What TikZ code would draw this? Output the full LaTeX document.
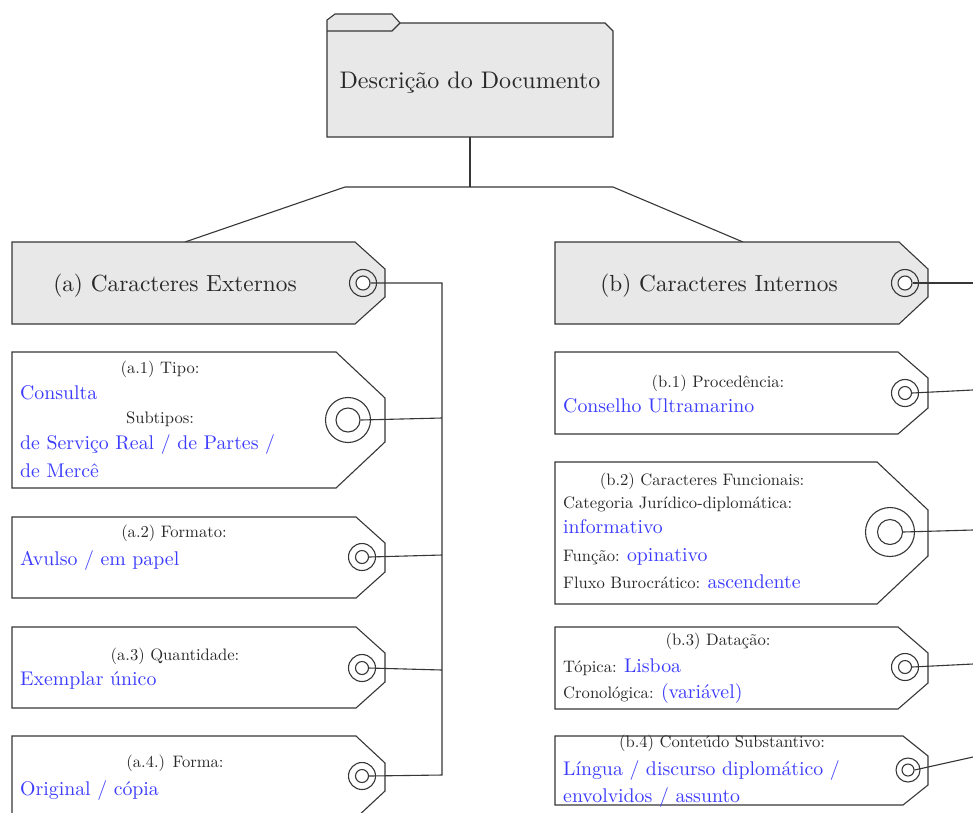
\documentclass[tikz,border=0pt]{standalone}
\usepackage{fontspec}
\setmainfont{lmroman10-regular.otf}
\definecolor{inkblue}{RGB}{60,60,255}
\definecolor{inkdark}{RGB}{40,40,40}
\definecolor{tagfill}{RGB}{232,232,232}
\definecolor{edge}{RGB}{55,55,55}
\tikzset{
  tagline/.style={draw=edge, line width=1.1pt, line join=miter},
  wire/.style={draw=edge, line width=1.1pt},
  ring/.style={circle, draw=edge, line width=1.1pt, inner sep=0pt, minimum size=#1},
  lbl/.style={inner sep=0pt, text=inkdark, font=\fontsize{16.6}{20}\selectfont},
  val/.style={inner sep=0pt, text=inkblue, font=\fontsize{19.8}{24}\selectfont},
  head/.style={inner sep=0pt, text=inkdark, font=\fontsize{23.3}{28}\selectfont},
  title/.style={inner sep=0pt, text=inkdark, font=\fontsize{24}{28}\selectfont},
}
% tag outline: x1, y1, x2, y2, chamfer width, chamfer height
\newcommand{\tagpath}[7][fill=white]{%
  \draw[tagline,#1] (#2,#3) -- (#4-#6,#3) -- (#4,#3+#7) -- (#4,#5-#7)
    -- (#4-#6,#5) -- (#2,#5) -- cycle;}
% eyelet: name, centre, outer and inner diameter, inner fill
\newcommand{\eyelet}[5]{%
  \node[ring=#3] (#1o) at #2 {};
  \node[ring=#4, fill=#5] (#1) at #2 {};}
\newcommand{\lb}[1]{{\color{inkdark}\fontsize{16.6}{20}\selectfont #1}}
\begin{document}
\begin{tikzpicture}[x=1pt,y=-1pt]
\clip (0,0) rectangle (973,812);
\fill[white] (0,0) rectangle (973,812);

% document folder
\draw[tagline, fill=tagfill] (327,137) -- (327,20) -- (335,14) -- (392,14)
  -- (400,23) -- (605,23) -- (613,31) -- (613,137) -- cycle;
\draw[tagline] (327,31) -- (392,31) -- (400,23);
\node[title, anchor=base] (doc) at (470,88) {Descrição do Documento};
\coordinate (docbot) at (470,137);

% tree from the folder to the two branches
\coordinate (fork) at (470,187);
\coordinate (forkL) at (345,187);
\coordinate (forkR) at (613,187);
\coordinate (atop) at (185,242);
\coordinate (btop) at (743,242);
\draw[wire] (docbot) -- (fork);
\draw[wire] (atop) -- (forkL) -- (forkR) -- (btop);

% branch headers
\tagpath[fill=tagfill]{12}{242}{385}{324}{30}{27}
\tagpath[fill=tagfill]{555}{242}{928}{324}{29}{27}
\node[head, anchor=base] (ha) at (175,291) {(a) Caracteres Externos};
\node[head, anchor=base] (hb) at (719,291) {(b) Caracteres Internos};
\eyelet{ea}{(363,283)}{27pt}{14pt}{white}
\eyelet{eb}{(905,283)}{27pt}{14pt}{white}

% (a) tags
\tagpath{12}{352}{385}{488}{49}{46}
\tagpath{12}{517}{385}{598}{29}{26}
\tagpath{12}{627}{385}{708}{29}{26}
\tagpath{12}{736}{385}{818}{29}{27}
\eyelet{ea1}{(348,420)}{45pt}{24pt}{white}
\eyelet{ea2}{(362,557)}{27pt}{13pt}{white}
\eyelet{ea3}{(362,668)}{27pt}{13pt}{white}
\eyelet{ea4}{(362,776)}{27pt}{13pt}{white}

\node[lbl, anchor=base] (ta1) at (160,373) {(a.1) Tipo:};
\node[val, anchor=base west] (va1) at (20,399) {Consulta};
\node[lbl, anchor=base] (sa1) at (160,423) {Subtipos:};
\node[val, anchor=base west] (wa1) at (20,449) {de Serviço Real / de Partes /};
\node[val, anchor=base west] (xa1) at (20,477) {de Mercê};

\node[lbl, anchor=base] (ta2) at (174,537) {(a.2) Formato:};
\node[val, anchor=base west] (va2) at (20,565) {Avulso / em papel};

\node[lbl, anchor=base] (ta3) at (175,660) {(a.3) Quantidade:};
\node[val, anchor=base west] (va3) at (20,685) {Exemplar único};

\node[lbl, anchor=base] (ta4) at (175,767) {(a.4.) Forma:};
\node[val, anchor=base west] (va4) at (20,795) {Original / cópia};

% (b) tags
\tagpath{555}{352}{928}{434}{30}{26}
\tagpath{555}{462}{928}{604}{51}{48}
\tagpath{555}{627}{928}{709}{30}{26}
\tagpath{555}{736}{928}{805}{25}{20}
\eyelet{eb1}{(905,393)}{27pt}{13pt}{white}
\eyelet{eb2}{(890,532)}{49pt}{25pt}{white}
\eyelet{eb3}{(905,667)}{27pt}{13pt}{white}
\eyelet{eb4}{(908,770)}{24pt}{12pt}{white}

\node[lbl, anchor=base] (tb1) at (718,387) {(b.1) Procedência:};
\node[val, anchor=base west] (vb1) at (563,412) {Conselho Ultramarino};

\node[lbl, anchor=base] (tb2) at (702,485) {(b.2) Caracteres Funcionais:};
\node[lbl, anchor=base west] (cb2) at (563,508) {Categoria Jurídico-diplomática:};
\node[val, anchor=base west] (vb2) at (563,533) {informativo};
\node[val, anchor=base west] (fb2) at (563,561) {\lb{Função: }opinativo};
\node[val, anchor=base west] (gb2) at (563,588) {\lb{Fluxo Burocrático: }ascendente};

\node[lbl, anchor=base] (tb3) at (718,645) {(b.3) Datação:};
\node[val, anchor=base west] (vb3) at (563,672) {\lb{Tópica: }Lisboa};
\node[val, anchor=base west] (cb3) at (563,698) {\lb{Cronológica: }(variável)};

\node[lbl, anchor=base] (tb4) at (722,747) {(b.4) Conteúdo Substantivo:};
\node[val, anchor=base west] (vb4) at (563,775) {Língua / discurso diplomático /};
\node[val, anchor=base west] (wb4) at (563,802) {envolvidos / assunto};

% connectors of branch (a): eyelets to the vertical spine
\coordinate (spinetop) at (442,283);
\coordinate (sa1p) at (442,418);
\coordinate (sa2p) at (442,555);
\coordinate (sa3p) at (442,670);
\coordinate (spinebot) at (442,775);
\draw[wire] (ea.east) -- (spinetop) -- (spinebot) -- (ea4.east);
\draw[wire] (ea1.east) -- (sa1p);
\draw[wire] (ea2.east) -- (sa2p);
\draw[wire] (ea3.east) -- (sa3p);

% connectors of branch (b): eyelets running off to the right
\coordinate (rb) at (973,283);
\coordinate (rb1) at (973,390);
\coordinate (rb2) at (973,530);
\coordinate (rb3) at (973,664);
\coordinate (rb4) at (973,757);
\draw[wire] (eb.east) -- (rb);
\draw[wire] (eb1.east) -- (rb1);
\draw[wire] (eb2.east) -- (rb2);
\draw[wire] (eb3.east) -- (rb3);
\draw[wire] (eb4.east) -- (rb4);
\end{tikzpicture}
\end{document}
